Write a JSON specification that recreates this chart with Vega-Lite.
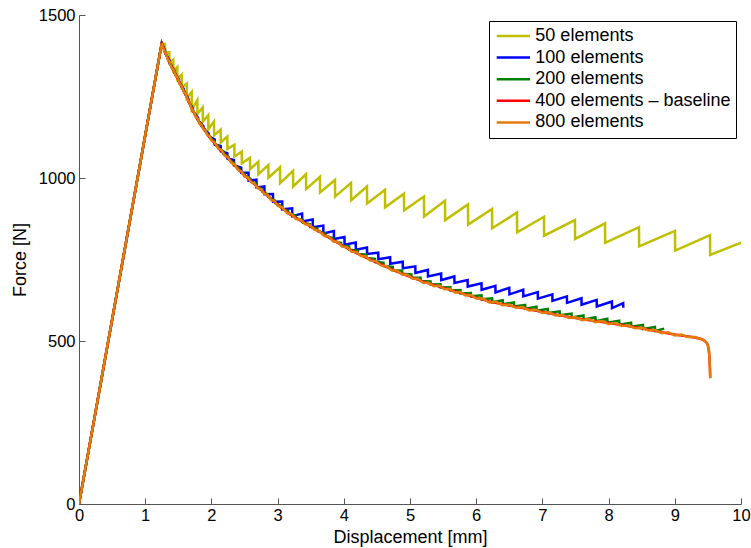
{
  "$schema": "https://vega.github.io/schema/vega-lite/v6.json",
  "width": 662,
  "height": 489,
  "autosize": {"type": "none"},
  "padding": {"left": 79, "top": 15, "right": 10, "bottom": 44},
  "background": "white",
  "config": {
    "view": {"stroke": null},
    "font": "Liberation Sans",
    "axis": {
      "grid": false,
      "domainColor": "#555555",
      "tickColor": "#555555",
      "domainWidth": 1,
      "tickWidth": 1,
      "tickSize": -6,
      "labelFont": "Liberation Sans",
      "labelFontSize": 16.5,
      "labelColor": "#000000",
      "labelFlush": false,
      "labelOverlap": false,
      "titleFont": "Liberation Sans",
      "titleFontSize": 18,
      "titleFontWeight": "normal",
      "titleColor": "#000000"
    },
    "legend": {
      "orient": "none",
      "legendX": 410,
      "legendY": 6,
      "strokeColor": "#000000",
      "strokeWidth": 1,
      "fillColor": "#ffffff",
      "padding": 5,
      "cornerRadius": 0,
      "symbolType": "stroke",
      "symbolSize": 1110,
      "symbolStrokeWidth": 2.5,
      "symbolOffset": 1.35,
      "clipHeight": 20,
      "labelFont": "Liberation Sans",
      "labelFontSize": 18,
      "labelColor": "#000000",
      "labelOffset": 4,
      "rowPadding": 1.6,
      "labelLimit": 400
    }
  },
  "datasets": {
    "e50": [
      {"x":0,"y":0},{"x":1.25,"y":1413},{"x":1.299,"y":1411},{"x":1.301,"y":1384},{"x":1.364,"y":1386},{"x":1.366,"y":1354},{"x":1.424,"y":1363},{"x":1.426,"y":1329},{"x":1.485,"y":1340},{"x":1.487,"y":1304},{"x":1.551,"y":1317},{"x":1.553,"y":1278},{"x":1.627,"y":1290},{"x":1.629,"y":1246},{"x":1.702,"y":1264},{"x":1.704,"y":1210},{"x":1.787,"y":1239},{"x":1.789,"y":1196},{"x":1.869,"y":1216},{"x":1.871,"y":1173},{"x":1.953,"y":1193},{"x":1.955,"y":1150},{"x":2.039,"y":1173},{"x":2.041,"y":1131},{"x":2.14,"y":1148},{"x":2.142,"y":1109},{"x":2.24,"y":1127},{"x":2.242,"y":1089},{"x":2.346,"y":1102},{"x":2.348,"y":1066},{"x":2.458,"y":1081},{"x":2.46,"y":1045},{"x":2.583,"y":1062},{"x":2.585,"y":1027},{"x":2.708,"y":1050},{"x":2.71,"y":1012},{"x":2.86,"y":1040},{"x":2.862,"y":1001},{"x":3.036,"y":1033},{"x":3.038,"y":984},{"x":3.233,"y":1022},{"x":3.235,"y":974},{"x":3.429,"y":1012},{"x":3.431,"y":966},{"x":3.64,"y":1004},{"x":3.642,"y":956},{"x":3.867,"y":994},{"x":3.869,"y":943},{"x":4.109,"y":985},{"x":4.111,"y":932},{"x":4.35,"y":974},{"x":4.352,"y":922},{"x":4.622,"y":964},{"x":4.624,"y":910},{"x":4.909,"y":952},{"x":4.911,"y":901},{"x":5.211,"y":943},{"x":5.213,"y":882},{"x":5.529,"y":930},{"x":5.531,"y":871},{"x":5.876,"y":919},{"x":5.878,"y":857},{"x":6.239,"y":905},{"x":6.241,"y":846},{"x":6.616,"y":894},{"x":6.618,"y":833},{"x":7.024,"y":881},{"x":7.026,"y":823},{"x":7.492,"y":871},{"x":7.494,"y":813},{"x":7.946,"y":861},{"x":7.948,"y":801},{"x":8.459,"y":849},{"x":8.461,"y":790},{"x":9.003,"y":838},{"x":9.005,"y":777},{"x":9.532,"y":825},{"x":9.534,"y":764},{"x":10.0,"y":802}
    ],
    "e100": [
      {"x":0,"y":0},{"x":1.25,"y":1413},{"x":1.3,"y":1391},{"x":1.302,"y":1383},{"x":1.37,"y":1359},{"x":1.372,"y":1351},{"x":1.44,"y":1330},{"x":1.442,"y":1322},{"x":1.51,"y":1302},{"x":1.512,"y":1294},{"x":1.58,"y":1274},{"x":1.582,"y":1266},{"x":1.65,"y":1244},{"x":1.652,"y":1236},{"x":1.72,"y":1213},{"x":1.722,"y":1205},{"x":1.8,"y":1184},{"x":1.802,"y":1176},{"x":1.88,"y":1159},{"x":1.882,"y":1151},{"x":1.96,"y":1136},{"x":1.962,"y":1128},{"x":2.05,"y":1118},{"x":2.052,"y":1102},{"x":2.14,"y":1098},{"x":2.142,"y":1082},{"x":2.24,"y":1076},{"x":2.242,"y":1060},{"x":2.34,"y":1055},{"x":2.342,"y":1039},{"x":2.45,"y":1032},{"x":2.452,"y":1016},{"x":2.56,"y":1016},{"x":2.562,"y":992},{"x":2.68,"y":995},{"x":2.682,"y":971},{"x":2.8,"y":974},{"x":2.802,"y":950},{"x":2.93,"y":951},{"x":2.932,"y":927},{"x":3.07,"y":928},{"x":3.072,"y":904},{"x":3.22,"y":907},{"x":3.222,"y":883},{"x":3.37,"y":891},{"x":3.372,"y":867},{"x":3.53,"y":873},{"x":3.532,"y":849},{"x":3.69,"y":854},{"x":3.692,"y":830},{"x":3.85,"y":837},{"x":3.852,"y":813},{"x":4.01,"y":819},{"x":4.012,"y":795},{"x":4.18,"y":802},{"x":4.182,"y":780},{"x":4.35,"y":787},{"x":4.352,"y":767},{"x":4.52,"y":771},{"x":4.522,"y":751},{"x":4.7,"y":757},{"x":4.702,"y":737},{"x":4.89,"y":743},{"x":4.892,"y":723},{"x":5.08,"y":729},{"x":5.082,"y":709},{"x":5.27,"y":718},{"x":5.272,"y":698},{"x":5.47,"y":707},{"x":5.472,"y":687},{"x":5.67,"y":698},{"x":5.672,"y":678},{"x":5.87,"y":687},{"x":5.872,"y":667},{"x":6.08,"y":677},{"x":6.082,"y":657},{"x":6.29,"y":669},{"x":6.292,"y":649},{"x":6.5,"y":663},{"x":6.502,"y":643},{"x":6.71,"y":657},{"x":6.712,"y":637},{"x":6.93,"y":650},{"x":6.932,"y":630},{"x":7.15,"y":643},{"x":7.152,"y":623},{"x":7.37,"y":637},{"x":7.372,"y":617},{"x":7.59,"y":631},{"x":7.592,"y":611},{"x":7.82,"y":626},{"x":7.822,"y":606},{"x":8.05,"y":621},{"x":8.052,"y":601},{"x":8.22,"y":616},{"x":8.222,"y":602}
    ],
    "e200": [
      {"x":0,"y":0},{"x":1.25,"y":1413},{"x":1.3,"y":1390},{"x":1.303,"y":1384},{"x":1.35,"y":1366},{"x":1.353,"y":1360},{"x":1.4,"y":1345},{"x":1.403,"y":1339},{"x":1.45,"y":1325},{"x":1.453,"y":1319},{"x":1.5,"y":1304},{"x":1.503,"y":1298},{"x":1.55,"y":1284},{"x":1.553,"y":1278},{"x":1.6,"y":1264},{"x":1.603,"y":1258},{"x":1.66,"y":1237},{"x":1.663,"y":1231},{"x":1.72,"y":1211},{"x":1.723,"y":1205},{"x":1.78,"y":1188},{"x":1.783,"y":1182},{"x":1.84,"y":1167},{"x":1.843,"y":1161},{"x":1.9,"y":1150},{"x":1.903,"y":1144},{"x":1.97,"y":1130},{"x":1.973,"y":1124},{"x":2.04,"y":1114},{"x":2.043,"y":1106},{"x":2.11,"y":1098},{"x":2.113,"y":1090},{"x":2.18,"y":1082},{"x":2.183,"y":1074},{"x":2.26,"y":1065},{"x":2.263,"y":1057},{"x":2.34,"y":1047},{"x":2.343,"y":1039},{"x":2.42,"y":1030},{"x":2.423,"y":1022},{"x":2.5,"y":1014},{"x":2.503,"y":1006},{"x":2.59,"y":998},{"x":2.593,"y":990},{"x":2.68,"y":982},{"x":2.683,"y":974},{"x":2.77,"y":965},{"x":2.773,"y":957},{"x":2.86,"y":949},{"x":2.863,"y":941},{"x":2.96,"y":931},{"x":2.963,"y":923},{"x":3.06,"y":914},{"x":3.063,"y":906},{"x":3.16,"y":899},{"x":3.163,"y":891},{"x":3.27,"y":885},{"x":3.273,"y":877},{"x":3.38,"y":871},{"x":3.383,"y":863},{"x":3.49,"y":858},{"x":3.493,"y":850},{"x":3.6,"y":845},{"x":3.603,"y":837},{"x":3.72,"y":830},{"x":3.723,"y":822},{"x":3.84,"y":815},{"x":3.843,"y":807},{"x":3.96,"y":801},{"x":3.963,"y":793},{"x":4.08,"y":790},{"x":4.083,"y":780},{"x":4.21,"y":777},{"x":4.213,"y":767},{"x":4.34,"y":765},{"x":4.343,"y":755},{"x":4.47,"y":752},{"x":4.473,"y":742},{"x":4.6,"y":740},{"x":4.603,"y":730},{"x":4.74,"y":727},{"x":4.743,"y":717},{"x":4.88,"y":716},{"x":4.883,"y":706},{"x":5.02,"y":704},{"x":5.023,"y":694},{"x":5.16,"y":694},{"x":5.163,"y":684},{"x":5.31,"y":683},{"x":5.313,"y":673},{"x":5.46,"y":674},{"x":5.463,"y":664},{"x":5.61,"y":665},{"x":5.613,"y":655},{"x":5.76,"y":656},{"x":5.763,"y":646},{"x":5.92,"y":647},{"x":5.923,"y":637},{"x":6.08,"y":640},{"x":6.083,"y":628},{"x":6.24,"y":631},{"x":6.243,"y":619},{"x":6.4,"y":625},{"x":6.403,"y":613},{"x":6.57,"y":618},{"x":6.573,"y":606},{"x":6.74,"y":611},{"x":6.743,"y":599},{"x":6.91,"y":605},{"x":6.913,"y":593},{"x":7.08,"y":598},{"x":7.083,"y":586},{"x":7.26,"y":591},{"x":7.263,"y":579},{"x":7.44,"y":584},{"x":7.443,"y":572},{"x":7.62,"y":578},{"x":7.623,"y":566},{"x":7.8,"y":573},{"x":7.803,"y":561},{"x":7.98,"y":568},{"x":7.983,"y":556},{"x":8.16,"y":562},{"x":8.163,"y":550},{"x":8.34,"y":556},{"x":8.343,"y":544},{"x":8.52,"y":549},{"x":8.523,"y":537},{"x":8.7,"y":543},{"x":8.703,"y":531},{"x":8.84,"y":538}
    ],
    "e400": [
      {"x":0,"y":0},{"x":1.25,"y":1413},{"x":1.3,"y":1386},{"x":1.35,"y":1362},{"x":1.4,"y":1341},{"x":1.45,"y":1321},{"x":1.5,"y":1300},{"x":1.55,"y":1280},{"x":1.6,"y":1260},{"x":1.65,"y":1238},{"x":1.7,"y":1215},{"x":1.75,"y":1194},{"x":1.8,"y":1177},{"x":1.85,"y":1160},{"x":1.9,"y":1146},{"x":1.95,"y":1131},{"x":2.0,"y":1118},{"x":2.1,"y":1094},{"x":2.2,"y":1072},{"x":2.3,"y":1050},{"x":2.4,"y":1028},{"x":2.5,"y":1008},{"x":2.6,"y":990},{"x":2.7,"y":972},{"x":2.8,"y":954},{"x":2.9,"y":936},{"x":3.0,"y":918},{"x":3.2,"y":887},{"x":3.4,"y":863},{"x":3.6,"y":839},{"x":3.8,"y":814},{"x":4.0,"y":790},{"x":4.2,"y":769},{"x":4.4,"y":750},{"x":4.6,"y":731},{"x":4.8,"y":713},{"x":5.0,"y":697},{"x":5.2,"y":682},{"x":5.4,"y":669},{"x":5.6,"y":657},{"x":5.8,"y":645},{"x":6.0,"y":633},{"x":6.2,"y":621},{"x":6.4,"y":613},{"x":6.6,"y":605},{"x":6.8,"y":597},{"x":7.0,"y":589},{"x":7.2,"y":581},{"x":7.4,"y":574},{"x":7.6,"y":567},{"x":7.8,"y":561},{"x":8.0,"y":555},{"x":8.2,"y":549},{"x":8.4,"y":542},{"x":8.6,"y":535},{"x":8.8,"y":527},{"x":9.0,"y":520},{"x":9.2,"y":514},{"x":9.3,"y":511},{"x":9.4,"y":506},{"x":9.45,"y":501},{"x":9.48,"y":495},{"x":9.5,"y":487},{"x":9.515,"y":470},{"x":9.525,"y":445},{"x":9.53,"y":420},{"x":9.535,"y":388}
    ],
    "e800": [
      {"x":0,"y":0},{"x":1.25,"y":1413},{"x":1.28,"y":1394},{"x":1.31,"y":1384},{"x":1.34,"y":1364},{"x":1.37,"y":1356},{"x":1.4,"y":1338},{"x":1.43,"y":1332},{"x":1.46,"y":1314},{"x":1.49,"y":1307},{"x":1.52,"y":1289},{"x":1.55,"y":1283},{"x":1.58,"y":1265},{"x":1.61,"y":1259},{"x":1.64,"y":1239},{"x":1.67,"y":1232},{"x":1.7,"y":1212},{"x":1.73,"y":1205},{"x":1.76,"y":1188},{"x":1.79,"y":1183},{"x":1.82,"y":1167},{"x":1.85,"y":1163},{"x":1.88,"y":1149},{"x":1.91,"y":1146},{"x":1.94,"y":1131},{"x":1.97,"y":1129},{"x":2.0,"y":1115},{"x":2.05,"y":1109},{"x":2.1,"y":1091},{"x":2.15,"y":1086},{"x":2.2,"y":1069},{"x":2.25,"y":1064},{"x":2.3,"y":1047},{"x":2.35,"y":1042},{"x":2.4,"y":1025},{"x":2.45,"y":1021},{"x":2.5,"y":1005},{"x":2.55,"y":1002},{"x":2.6,"y":987},{"x":2.65,"y":984},{"x":2.7,"y":969},{"x":2.75,"y":966},{"x":2.8,"y":951},{"x":2.85,"y":948},{"x":2.9,"y":933},{"x":2.95,"y":930},{"x":3.0,"y":915},{"x":3.07,"y":910},{"x":3.14,"y":893},{"x":3.21,"y":889},{"x":3.28,"y":874},{"x":3.35,"y":872},{"x":3.42,"y":858},{"x":3.49,"y":855},{"x":3.56,"y":841},{"x":3.63,"y":838},{"x":3.7,"y":823},{"x":3.77,"y":821},{"x":3.84,"y":806},{"x":3.91,"y":804},{"x":3.98,"y":789},{"x":4.05,"y":788},{"x":4.12,"y":774},{"x":4.19,"y":773},{"x":4.26,"y":761},{"x":4.33,"y":760},{"x":4.4,"y":747},{"x":4.48,"y":745},{"x":4.56,"y":732},{"x":4.64,"y":730},{"x":4.72,"y":717},{"x":4.8,"y":716},{"x":4.88,"y":704},{"x":4.96,"y":703},{"x":5.04,"y":691},{"x":5.12,"y":691},{"x":5.2,"y":679},{"x":5.28,"y":679},{"x":5.36,"y":668},{"x":5.44,"y":670},{"x":5.52,"y":659},{"x":5.6,"y":660},{"x":5.68,"y":649},{"x":5.76,"y":650},{"x":5.84,"y":640},{"x":5.92,"y":641},{"x":6.0,"y":630},{"x":6.1,"y":630},{"x":6.2,"y":618},{"x":6.3,"y":620},{"x":6.4,"y":610},{"x":6.5,"y":612},{"x":6.6,"y":602},{"x":6.7,"y":604},{"x":6.8,"y":594},{"x":6.9,"y":596},{"x":7.0,"y":586},{"x":7.1,"y":588},{"x":7.2,"y":578},{"x":7.3,"y":580},{"x":7.4,"y":571},{"x":7.5,"y":573},{"x":7.6,"y":564},{"x":7.7,"y":567},{"x":7.8,"y":558},{"x":7.9,"y":561},{"x":8.0,"y":552},{"x":8.1,"y":555},{"x":8.2,"y":546},{"x":8.3,"y":548},{"x":8.4,"y":539},{"x":8.5,"y":541},{"x":8.6,"y":532},{"x":8.7,"y":534},{"x":8.8,"y":524},{"x":8.9,"y":527},{"x":9.0,"y":517},{"x":9.1,"y":520},{"x":9.2,"y":512},{"x":9.3,"y":512},{"x":9.4,"y":506},{"x":9.45,"y":501},{"x":9.48,"y":494},{"x":9.5,"y":486},{"x":9.515,"y":470},{"x":9.525,"y":445},{"x":9.53,"y":420},{"x":9.535,"y":386}
    ]
  },
  "encoding": {
    "x": {"field": "x", "type": "quantitative", "scale": {"domain": [0, 10], "nice": false}, "axis": {"values": [0,1,2,3,4,5,6,7,8,9,10], "title": "Displacement [mm]", "labelPadding": 9, "titlePadding": 5}},
    "y": {"field": "y", "type": "quantitative", "scale": {"domain": [0, 1500], "nice": false}, "axis": {"values": [0,500,1000,1500], "format": "d", "title": "Force [N]", "labelPadding": 10, "titlePadding": 9}}
  },
  "layer": [
    {"data": {"name": "e50"}, "mark": {"type": "line", "strokeWidth": 2.5, "clip": true},
     "encoding": {"color": {"datum": "50 elements", "type": "nominal", "scale": {"domain": ["50 elements","100 elements","200 elements","400 elements \u2013 baseline","800 elements"], "range": ["#BFBF00","#0000FF","#008000","#FF0000","#E37C0B"]}, "legend": {"title": null}}}},
    {"data": {"name": "e100"}, "mark": {"type": "line", "strokeWidth": 2.5, "clip": true},
     "encoding": {"color": {"datum": "100 elements", "type": "nominal", "scale": {"domain": ["50 elements","100 elements","200 elements","400 elements \u2013 baseline","800 elements"], "range": ["#BFBF00","#0000FF","#008000","#FF0000","#E37C0B"]}, "legend": {"title": null}}}},
    {"data": {"name": "e200"}, "mark": {"type": "line", "strokeWidth": 2.5, "clip": true},
     "encoding": {"color": {"datum": "200 elements", "type": "nominal", "scale": {"domain": ["50 elements","100 elements","200 elements","400 elements \u2013 baseline","800 elements"], "range": ["#BFBF00","#0000FF","#008000","#FF0000","#E37C0B"]}, "legend": {"title": null}}}},
    {"data": {"name": "e400"}, "mark": {"type": "line", "strokeWidth": 2.5, "clip": true},
     "encoding": {"color": {"datum": "400 elements \u2013 baseline", "type": "nominal", "scale": {"domain": ["50 elements","100 elements","200 elements","400 elements \u2013 baseline","800 elements"], "range": ["#BFBF00","#0000FF","#008000","#FF0000","#E37C0B"]}, "legend": {"title": null}}}},
    {"data": {"name": "e800"}, "mark": {"type": "line", "strokeWidth": 2.5, "clip": true},
     "encoding": {"color": {"datum": "800 elements", "type": "nominal", "scale": {"domain": ["50 elements","100 elements","200 elements","400 elements \u2013 baseline","800 elements"], "range": ["#BFBF00","#0000FF","#008000","#FF0000","#E37C0B"]}, "legend": {"title": null}}}}
  ]
}
